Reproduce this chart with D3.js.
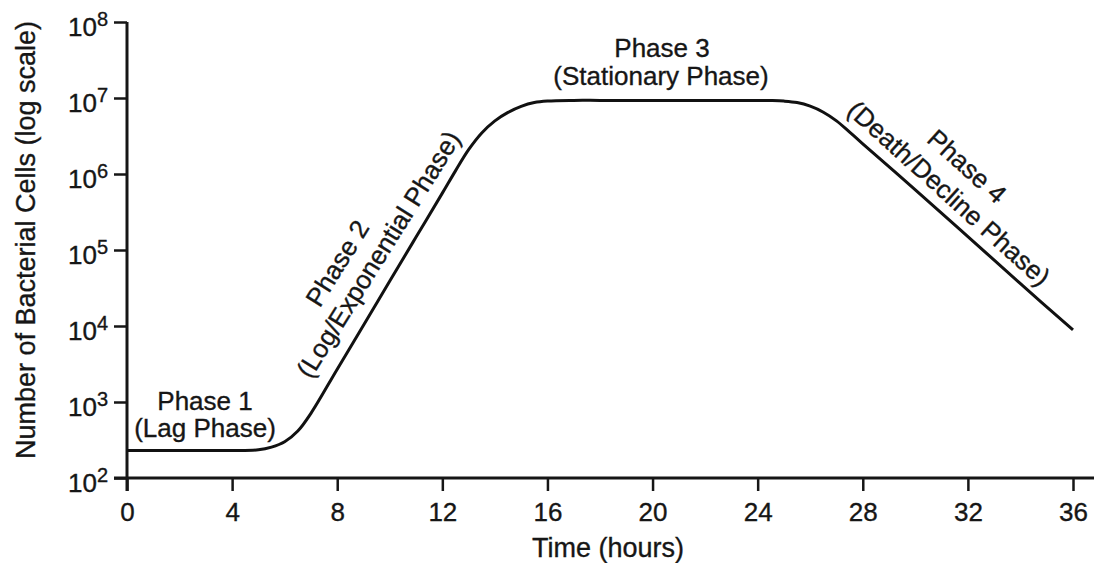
<!DOCTYPE html>
<html>
<head>
<meta charset="utf-8">
<script src="https://cdn.jsdelivr.net/npm/d3@7"></script>
<style>
  body { margin: 0; background: #fff; }
  svg { display: block; font-family: 'Liberation Sans', Arial, Helvetica, sans-serif; }
  text { fill: #161616; stroke: #161616; stroke-width: 0.35px; }
</style>
</head>
<body>
<div id="chart"></div>
<script>
// growth curve: hours and cell count
const hours = [0, 2, 4, 5, 5.5, 6, 6.5, 7, 8, 9, 10, 11, 12, 12.5, 13, 13.5, 14, 14.5, 15, 15.5, 16,
  17, 18, 20, 22, 24, 24.5, 25, 25.5, 26, 26.5, 27, 27.5, 28, 30, 32, 34, 36];
const cells = [230, 230, 230, 235, 255, 300, 415, 710, 2700, 10200, 39000, 148000, 560000,
  1100000, 2090000, 3470000, 5000000, 6460000, 7760000, 8710000, 9120000,
  9300000, 9300000, 9300000, 9300000, 9300000, 9250000, 9100000, 8700000, 7800000, 6500000,
  5000000, 3550000, 2500000, 620000, 150000, 36000, 8900];

const xTicks = [0, 4, 8, 12, 16, 20, 24, 28, 32, 36];
const yTicks = [1e2, 1e3, 1e4, 1e5, 1e6, 1e7, 1e8];

const xTitle = 'Time (hours)';
const yTitle = 'Number of Bacterial Cells (log scale)';

const phaseLabels = [
  { lines: ['Phase 1', '(Lag Phase)'] },
  { lines: ['Phase 2', '(Log/Exponential Phase)'] },
  { lines: ['Phase 3', '(Stationary Phase)'] },
  { lines: ['Phase 4', '(Death/Decline Phase)'] },
];

const width = 1094;
const height = 563;

function createChart() {
  const svg = d3.select('#chart')
    .append('svg')
    .attr('width', width)
    .attr('height', height);

  const xScale = d3.scaleLinear().domain([0, 36]).range([127, 1073]);
  const yScale = d3.scaleLog().domain([1e2, 1e8]).range([478, 22]);

  const data = hours.map((h, i) => ({ h, c: cells[i] }));

  // x axis
  const xAxis = svg.append('g')
    .attr('transform', `translate(0, ${yScale(1e2)})`)
    .call(d3.axisBottom(xScale).tickValues(xTicks).tickSize(13).tickPadding(12).tickSizeOuter(0));
  xAxis.select('.domain').remove();
  xAxis.selectAll('line').attr('stroke', '#161616').attr('stroke-width', 2.5);
  xAxis.selectAll('text').attr('font-size', 26).attr('font-family', null).attr('fill', null);

  // y axis
  const yAxis = svg.append('g')
    .attr('transform', `translate(${xScale(0)}, 0)`)
    .call(d3.axisLeft(yScale).tickValues(yTicks).tickSize(13).tickPadding(6).tickSizeOuter(0));
  yAxis.select('.domain').remove();
  yAxis.selectAll('line').attr('stroke', '#161616').attr('stroke-width', 2.5);
  yAxis.selectAll('text')
    .attr('font-size', 26)
    .attr('font-family', null)
    .attr('fill', null)
    .attr('dy', '0.5em')
    .each(function (d) {
      const t = d3.select(this);
      t.text('');
      t.append('tspan').text('10');
      t.append('tspan').attr('font-size', 20).attr('dy', -10).text(Math.round(Math.log10(d)));
    });

  // axis lines (x runs on to the right edge, both overshoot at the corner)
  svg.append('line')
    .attr('x1', xScale(0) - 13).attr('x2', width)
    .attr('y1', yScale(1e2)).attr('y2', yScale(1e2))
    .attr('stroke', '#161616').attr('stroke-width', 3);
  svg.append('line')
    .attr('x1', xScale(0)).attr('x2', xScale(0))
    .attr('y1', yScale(1e8)).attr('y2', yScale(1e2) + 13)
    .attr('stroke', '#161616').attr('stroke-width', 3);

  // axis titles
  svg.append('text')
    .attr('x', 608).attr('y', 557)
    .attr('text-anchor', 'middle')
    .attr('font-size', 27)
    .text(xTitle);

  svg.append('text')
    .attr('transform', 'translate(35, 240) rotate(-90)')
    .attr('text-anchor', 'middle')
    .attr('font-size', 27)
    .text(yTitle);

  // growth curve
  const line = d3.line()
    .x((d) => xScale(d.h))
    .y((d) => yScale(d.c))
    .curve(d3.curveCatmullRom.alpha(0.5));

  svg.append('path')
    .datum(data)
    .attr('d', line)
    .attr('fill', 'none')
    .attr('stroke', '#111')
    .attr('stroke-width', 3)
    .attr('stroke-linejoin', 'round');

  // phase labels: [x, y, rotation] for each line's baseline centre
  const labelPos = [
    [[205, 410, 0], [205, 437, 0]],
    [[345, 268, -58], [386, 259, -58]],
    [[662, 57, 0], [661, 85, 0]],
    [[961, 173, 42], [943, 200, 42]],
  ];

  phaseLabels.forEach((p, i) => {
    p.lines.forEach((txt, j) => {
      const [x, y, r] = labelPos[i][j];
      svg.append('text')
        .attr('transform', `translate(${x}, ${y}) rotate(${r})`)
        .attr('text-anchor', 'middle')
        .attr('font-size', 26)
        .text(txt);
    });
  });
}

document.addEventListener('DOMContentLoaded', () => {
  createChart();
});
</script>
</body>
</html>
